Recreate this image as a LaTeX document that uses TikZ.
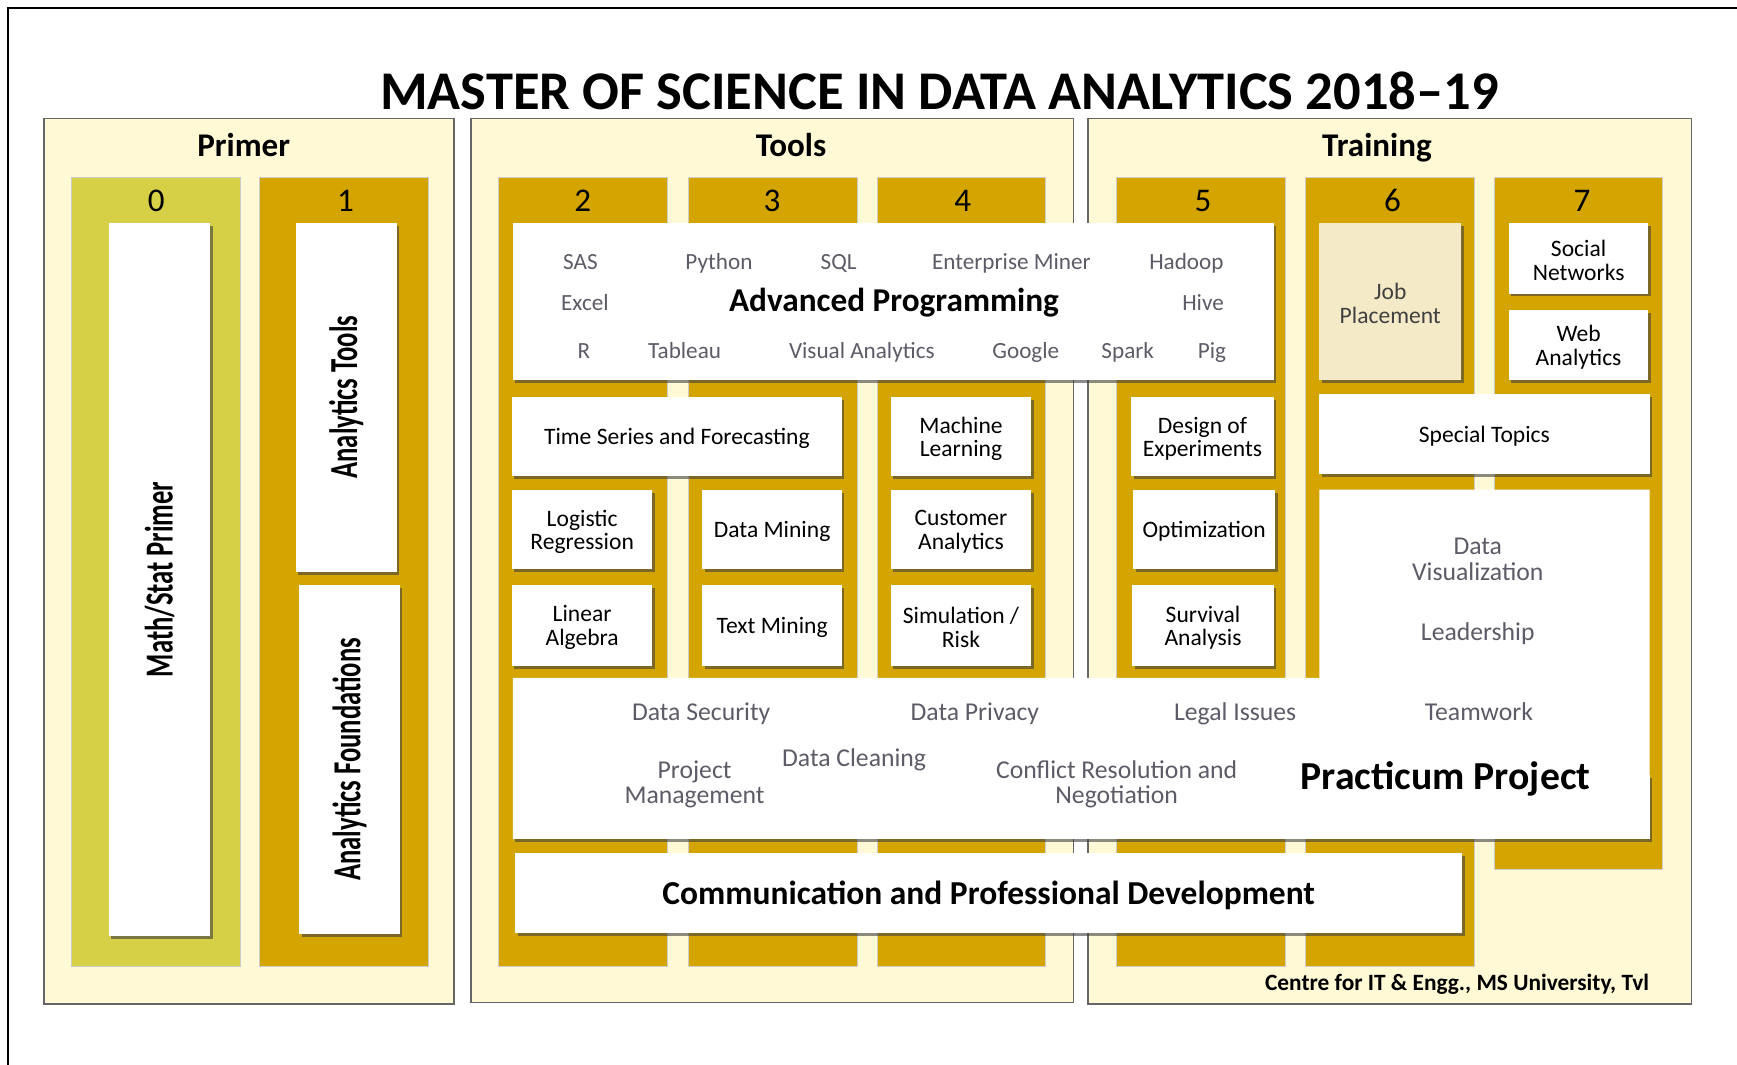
\documentclass[tikz,border=0pt]{standalone}
\usepackage{fontspec}
\setmainfont{Carlito}
\newfontfamily\condf[FakeStretch=0.67]{Carlito}
\usetikzlibrary{shadows,fit}
\definecolor{cream}{RGB}{255,249,214}
\definecolor{olivec}{RGB}{213,208,70}
\definecolor{goldc}{RGB}{212,165,0}
\definecolor{beigec}{RGB}{244,234,200}
\definecolor{txtgray}{RGB}{92,92,104}
\newcommand\fsz[2]{\fontsize{#1pt}{#2pt}\selectfont}
\tikzset{
  section/.style={draw=black!60, line width=0.9pt, fill=cream, inner sep=0pt},
  colbox/.style={fill=goldc, draw=black!20, line width=0.4pt, inner sep=0pt},
  wshadow/.style={drop shadow={shadow xshift=1.3pt, shadow yshift=-1.5pt, opacity=0.6, fill=black!75}},
  wbox/.style={fill=white, wshadow, inner sep=0pt},
  btext/.style={align=center, inner sep=0pt, yshift=-1.1pt, font=\fsz{12.1}{12}},
  head/.style={font=\bfseries\fsz{17}{20}, anchor=base},
  num/.style={font=\fsz{17}{20}, anchor=base},
  tool/.style={text=txtgray, font=\fsz{11.9}{14}, anchor=base},
  soft/.style={text=txtgray, font=\fsz{13.2}{13.3}, align=center},
  rot/.style={rotate=90, font=\condf\bfseries\fsz{20.4}{22}},
}
\begin{document}
\begin{tikzpicture}[x=0.02cm, y=-0.02cm]
\useasboundingbox (0,0) rectangle (1568,961);
\fill[white] (0,0) rectangle (1568,961);
\draw[line width=1pt] (7,961) -- (7,7) -- (1568,7);

% title
\node[font=\bfseries\fsz{28}{32}, anchor=base] (title) at (848,98.5) {MASTER OF SCIENCE IN DATA ANALYTICS 2018\textendash 19};

% sections
\node[section, fit={(40,107)(410,906)}] (primer) {};
\node[section, fit={(425,107)(969,905)}] (tools) {};
\node[section, fit={(982,107)(1527,906)}] (training) {};
\node[head] (hprimer) at (220,141) {Primer};
\node[head] (htools) at (714,141) {Tools};
\node[head] (htraining) at (1243,141) {Training};

% columns
\node[colbox, fill=olivec, fit={(64,160)(217,872)}] (c0) {};
\node[colbox, fit={(234,160)(387,872)}] (c1) {};
\node[colbox, fit={(450,160)(602,872)}] (c2) {};
\node[colbox, fit={(621,160)(774,872)}] (c3) {};
\node[colbox, fit={(792,160)(944,872)}] (c4) {};
\node[colbox, fit={(1008,160)(1160,872)}] (c5) {};
\node[colbox, fit={(1178,160)(1331,872)}] (c6) {};
\node[colbox, fit={(1349,160)(1501,785)}] (c7) {};
\node[num] (n0) at (141,191) {0};
\node[num] (n1) at (312,191) {1};
\node[num] (n2) at (526,191) {2};
\node[num] (n3) at (697,191) {3};
\node[num] (n4) at (869,191) {4};
\node[num] (n5) at (1086,191) {5};
\node[num] (n6) at (1257,191) {6};
\node[num] (n7) at (1428,191) {7};

% primer boxes
\node[wbox, fit={(98,201)(190,845)}] (math) {};
\node[rot] (tmath) at (math.center) {Math/Stat Primer};
\node[wbox, fit={(267,201)(358,516)}] (atools) {};
\node[rot] (tatools) at (atools.center) {Analytics Tools};
\node[wbox, fit={(270,528)(361,843)}] (afound) {};
\node[rot] (tafound) at (afound.center) {Analytics Foundations};

% advanced programming
\node[wbox, fit={(463,201)(1150,343)}] (adv) {};
\node[tool] (sas) at (524,243.5) {SAS};
\node[tool] (python) at (649,243.5) {Python};
\node[tool] (sql) at (757,243.5) {SQL};
\node[tool] (em) at (913,243.5) {Enterprise Miner};
\node[tool] (hadoop) at (1071,243.5) {Hadoop};
\node[tool] (excel) at (528,280.5) {Excel};
\node[tool] (hive) at (1086,280.5) {Hive};
\node[tool] (r) at (527,323.5) {R};
\node[tool] (tableau) at (618,323.5) {Tableau};
\node[tool] (va) at (778,323.5) {Visual Analytics};
\node[tool] (google) at (926,323.5) {Google};
\node[tool] (spark) at (1018,323.5) {Spark};
\node[tool] (pig) at (1094,323.5) {Pig};
\node[font=\bfseries\fsz{17.1}{20}, anchor=base] (advt) at (807,281.5) {Advanced Programming};

% tools boxes
\node[wbox, fit={(462,358)(760,430)}] (tsf) {};
\node[btext] (ttsf) at (tsf.center) {Time Series and Forecasting};
\node[wbox, fit={(804,358)(931,430)}] (ml) {};
\node[btext] (tml) at (ml.center) {Machine\\Learning};
\node[wbox, fit={(462,442)(589,514)}] (lr) {};
\node[btext] (tlr) at (lr.center) {Logistic\\Regression};
\node[wbox, fit={(634,442)(760,514)}] (dm) {};
\node[btext] (tdm) at (dm.center) {Data Mining};
\node[wbox, fit={(804,442)(931,514)}] (ca) {};
\node[btext] (tca) at (ca.center) {Customer\\Analytics};
\node[wbox, fit={(462,528)(589,601)}] (la) {};
\node[btext] (tla) at (la.center) {Linear\\Algebra};
\node[wbox, fit={(634,528)(760,601)}] (tm) {};
\node[btext] (ttm) at (tm.center) {Text Mining};
\node[wbox, fit={(804,528)(931,601)}] (sr) {};
\node[btext] (tsr) at (sr.center) {Simulation /\\Risk};

% training boxes
\node[wbox, fit={(1021,358)(1150,430)}] (doe) {};
\node[btext] (tdoe) at (doe.center) {Design of\\Experiments};
\node[wbox, fit={(1023,442)(1151,514)}] (opt) {};
\node[btext] (topt) at (opt.center) {Optimization};
\node[wbox, fit={(1022,528)(1150,601)}] (sa) {};
\node[btext] (tsa) at (sa.center) {Survival\\Analysis};
\node[wbox, fill=beigec, fit={(1191,201)(1319,343)}] (job) {};
\node[btext, text=black!75] (tjob) at (job.center) {Job\\Placement};
\node[wbox, fit={(1362,201)(1488,265)}] (sn) {};
\node[btext] (tsn) at (sn.center) {Social\\Networks};
\node[wbox, fit={(1362,280)(1488,343)}] (wa) {};
\node[btext] (twa) at (wa.center) {Web\\Analytics};
\node[wbox, fit={(1191,356)(1489,428)}] (st) {};
\node[btext] (tst) at (st.center) {Special Topics};

% practicum
\coordinate (p1) at (463,612);
\coordinate (p2) at (1191,612);
\coordinate (p3) at (1191,442);
\coordinate (p4) at (1489,442);
\coordinate (p5) at (1489,757);
\coordinate (p6) at (463,757);
\coordinate (q1) at (463,700);
\fill[white, wshadow] (q1) rectangle (p5);
\fill[white] (p1) -- (p2) -- (p3) -- (p4) -- (p5) -- (p6) -- cycle;
\node[soft, anchor=base] (dsec) at (633,650.5) {Data Security};
\node[soft, anchor=base] (dpriv) at (880,650.5) {Data Privacy};
\node[soft, anchor=base] (legal) at (1115,650.5) {Legal Issues};
\node[soft, anchor=base] (team) at (1335,650.5) {Teamwork};
\node[soft] (pm) at (627,708) {Project\\Management};
\node[soft, anchor=base] (dclean) at (771,691.5) {Data Cleaning};
\node[soft] (crn) at (1008,708) {Conflict Resolution and\\Negotiation};
\node[soft] (dviz) at (1334,505) {Data\\Visualization};
\node[soft, anchor=base] (lead) at (1334,578.5) {Leadership};
\node[font=\bfseries\fsz{20.4}{24}, anchor=base] (pp) at (1305,712.5) {Practicum Project};

% communication
\node[wbox, fit={(465,770)(1320,842)}] (comm) {};
\node[btext, font=\bfseries\fsz{17.2}{20}] (tcomm) at (comm.center) {Communication and Professional Development};

% footer
\node[font=\bfseries\fsz{12}{14}, inner sep=0pt, anchor=base east] (foot) at (1489,893.7) {Centre for IT \& Engg., MS University, Tvl};
\end{tikzpicture}
\end{document}
